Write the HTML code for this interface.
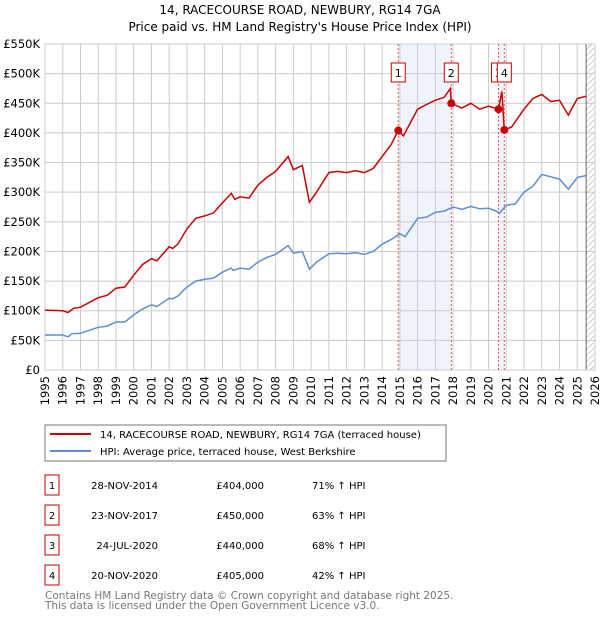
<!DOCTYPE html>
<html><head><meta charset="utf-8"><style>
body{margin:0;background:#fff;font-family:"Liberation Sans","DejaVu Sans",sans-serif;}
svg text{font-family:"DejaVu Sans","Liberation Sans",sans-serif;}
</style></head><body>
<svg id="c" width="600" height="620" xmlns="http://www.w3.org/2000/svg">
<text x="300" y="14" text-anchor="middle" font-size="12">14, RACECOURSE ROAD, NEWBURY, RG14 7GA</text>
<text x="300" y="31" text-anchor="middle" font-size="12">Price paid vs. HM Land Registry's House Price Index (HPI)</text>
<g id="grid"></g><g id="marks"></g><g id="axes"></g>
<rect x="45" y="425" width="401" height="36" fill="#fff" stroke="#777"/>
<line x1="50" y1="434" x2="91" y2="434" stroke="#cc0000" stroke-width="2"/>
<text x="100" y="438" font-size="10">14, RACECOURSE ROAD, NEWBURY, RG14 7GA (terraced house)</text>
<line x1="50" y1="451" x2="91" y2="451" stroke="#5b8fd4" stroke-width="2"/>
<text x="100" y="455" font-size="10">HPI: Average price, terraced house, West Berkshire</text>
<g id="table" font-size="10"></g>
<text x="45" y="599" font-size="10.5" fill="#777">Contains HM Land Registry data © Crown copyright and database right 2025.</text>
<text x="45" y="609" font-size="10.5" fill="#777">This data is licensed under the Open Government Licence v3.0.</text>
</svg>
<script>
const hpiT=[1995,1996,1996.3,1996.5,1997,1998,1998.5,1999,1999.5,2000,2000.5,2001,2001.3,2002,2002.2,2002.5,2003,2003.5,2004,2004.5,2005,2005.5,2005.6,2006,2006.5,2007,2007.5,2008,2008.7,2009,2009.5,2009.9,2010.3,2011,2011.5,2012,2012.5,2013,2013.5,2014,2014.5,2015,2015.3,2016,2016.5,2017,2017.5,2018,2018.5,2019,2019.5,2020,2020.5,2020.6,2021,2021.5,2022,2022.5,2023,2023.5,2024,2024.5,2025,2025.5];
const hpiV=[59,59,56,61,62,72,74,81,81,93,103,110,107,121,120,125,140,150,153,155,165,172,168,172,170,182,190,195,210,197,200,170,182,196,197,196,198,195,200,212,220,230,225,256,258,266,268,275,271,276,272,273,267,264,278,280,300,310,330,326,322,305,325,328];
const propT=[1995,1996,1996.3,1996.6,1997,1998,1998.5,1999,1999.5,2000,2000.5,2001,2001.3,2002,2002.2,2002.5,2003,2003.5,2004,2004.5,2005,2005.5,2005.7,2006,2006.5,2007,2007.5,2008,2008.7,2009,2009.5,2009.9,2010.3,2011,2011.5,2012,2012.5,2013,2013.5,2014,2014.5,2014.91,2015.2,2016,2016.5,2017,2017.5,2017.85,2017.9,2018.5,2019,2019.5,2020,2020.56,2020.75,2020.89,2021.3,2022,2022.5,2023,2023.5,2024,2024.5,2025,2025.5];
const propV=[101,100,97,104,106,122,126,138,140,160,178,188,184,208,205,213,238,256,260,265,282,298,288,292,290,312,325,335,360,338,345,283,300,333,335,333,336,333,340,360,380,404,395,440,448,455,460,475,450,442,450,440,445,440,470,405,410,440,458,465,453,455,430,458,462];
const saleLabels=["1","2","3","4"];
const saleT=[2014.91,2017.9,2020.56,2020.89];
const saleV=[404,450,440,405];
const saleDates=["28-NOV-2014","23-NOV-2017","24-JUL-2020","20-NOV-2020"];
const salePrices=["£404,000","£450,000","£440,000","£405,000"];
const salePct=["71% ↑ HPI","63% ↑ HPI","68% ↑ HPI","42% ↑ HPI"];
const yTicks=[0,50,100,150,200,250,300,350,400,450,500,550];
const yTickLabels=["£0","£50K","£100K","£150K","£200K","£250K","£300K","£350K","£400K","£450K","£500K","£550K"];
const xTicks=[];for(let y=1995;y<=2026;y++)xTicks.push(y);

const NS="http://www.w3.org/2000/svg";
const X0=45,X1=595,Y0=370,Y1=44;
const xs=t=>X0+(t-1995)/(2026-1995)*(X1-X0);
const ys=v=>Y0-v/550*(Y0-Y1);
function mk(tag,attrs,parent){const e=document.createElementNS(NS,tag);for(const k in attrs)e.setAttribute(k,attrs[k]);parent.appendChild(e);return e;}
const grid=document.getElementById('grid'),marks=document.getElementById('marks'),axes=document.getElementById('axes');
let b=mk('rect',{x:xs(saleT[0]),y:Y1,width:xs(saleT[1])-xs(saleT[0]),height:Y0-Y1,fill:'#eef3fc'},grid);

b=mk('rect',{x:xs(saleT[2]),y:Y1,width:xs(saleT[3])-xs(saleT[2]),height:Y0-Y1,fill:'#eef3fc'},grid);

yTicks.forEach((v,i)=>{
 const l=mk('line',{x1:X0,x2:X1,y1:ys(v),y2:ys(v),stroke:'#ccc'},grid);
 
 const t=mk('text',{x:40,y:ys(v)+4,'text-anchor':'end','font-size':'11.5'},axes);t.textContent=yTickLabels[i];
 
});
xTicks.forEach(y=>{
 const l=mk('line',{x1:xs(y),x2:xs(y),y1:Y1,y2:Y0,stroke:'#ccc'},grid);
 
 const t=mk('text',{x:0,y:0,'font-size':'11.5','text-anchor':'end',transform:`translate(${xs(y)+4},${Y0+6}) rotate(-90)`},axes);t.textContent=y;
 
});
const defs=mk('defs',{},grid);const p=mk('pattern',{id:'h',width:6,height:6,patternUnits:'userSpaceOnUse'},defs);
mk('path',{d:'M0,6 L6,0',stroke:'#ccc','stroke-width':1},p);
const hx=xs(2025.5);
let hr=mk('rect',{x:hx,y:Y1,width:X1-hx,height:Y0-Y1,fill:'url(#h)'},grid);

let hl=mk('line',{x1:hx,x2:hx,y1:Y1,y2:Y0,stroke:'#666'},grid);

let fr=mk('rect',{x:X0,y:Y1,width:X1-X0,height:Y0-Y1,fill:'none',stroke:'#ccc'},grid);

saleT.forEach((t,i)=>{
 const l=mk('line',{x1:xs(t),x2:xs(t),y1:Y1,y2:Y0,stroke:'#e55','stroke-dasharray':'2,2'},marks);
 
});
const pts=(T,V)=>T.map((t,i)=>xs(t).toFixed(1)+','+ys(V[i]).toFixed(1)).join(' ');
let hp=mk('polyline',{points:pts(hpiT,hpiV),fill:'none',stroke:'#5b8fd4','stroke-width':1.5},marks);

let pp=mk('polyline',{points:pts(propT,propV),fill:'none',stroke:'#cc0000','stroke-width':1.5},marks);

saleT.forEach((t,i)=>{
 const c=mk('circle',{cx:xs(t),cy:ys(saleV[i]),r:4,fill:'#cc0000'},marks);
 
});
saleT.forEach((t,i)=>{
 const g=mk('g',{},marks);
 
 mk('rect',{x:xs(t)-7,y:63,width:14,height:19,fill:'#fff',stroke:'#cc0000'},g);
 const tx=mk('text',{x:xs(t),y:77,'text-anchor':'middle','font-size':'11'},g);tx.textContent=saleLabels[i];
});
const tb=document.getElementById('table');
saleLabels.forEach((s,i)=>{
 const y=485+i*30;
 const g=mk('g',{},tb);
 mk('rect',{x:45,y:y-10,width:14,height:20,fill:'#fff',stroke:'#cc0000'},g);
 let t=mk('text',{x:52,y:y+4,'text-anchor':'middle'},g);t.textContent=s;
 t=mk('text',{x:158,y:y+4,'text-anchor':'end'},g);t.textContent=saleDates[i];
 t=mk('text',{x:264,y:y+4,'text-anchor':'end'},g);t.textContent=salePrices[i];
 t=mk('text',{x:312,y:y+4},g);t.textContent=salePct[i];
});
</script>
</body></html>
